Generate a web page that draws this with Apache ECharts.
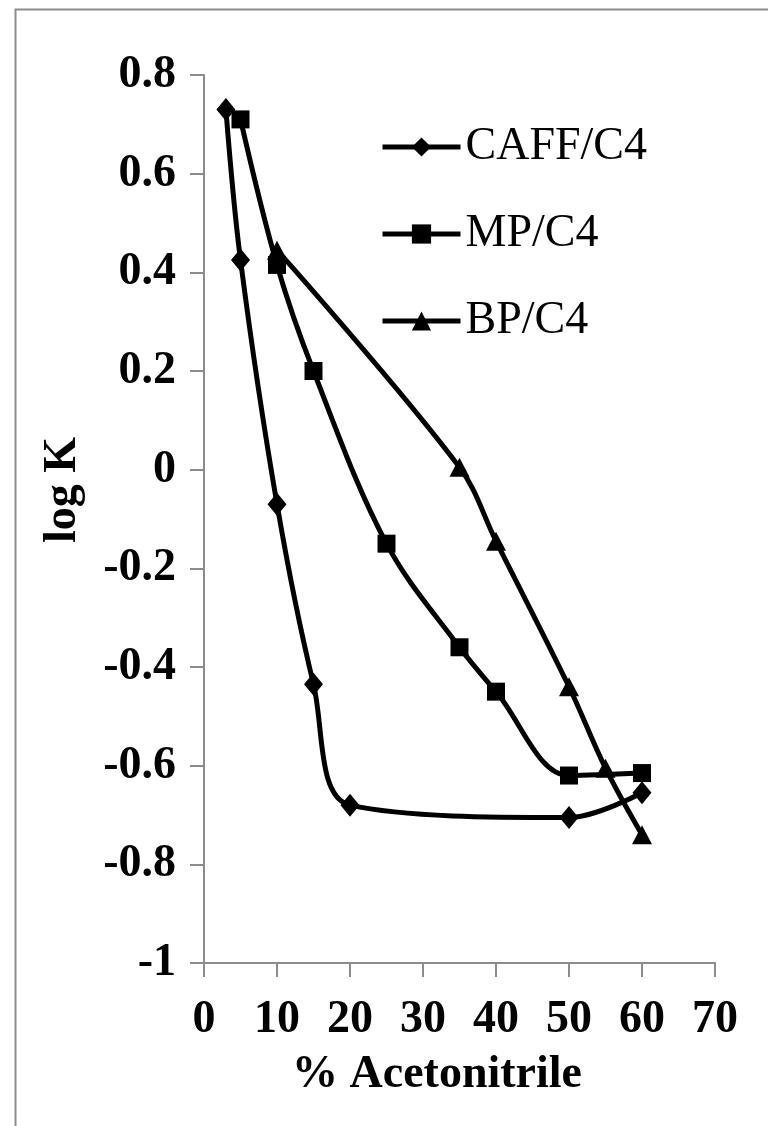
<!DOCTYPE html>
<html>
<head>
<meta charset="utf-8">
<script src="https://cdn.jsdelivr.net/npm/echarts@6/dist/echarts.min.js"></script>
<style>
  html, body { margin: 0; padding: 0; background: #fff; }
  #chart { width: 768px; height: 1126px; }
</style>
</head>
<body>
<div id="chart"></div>
<script>
// % acetonitrile (x) and log K (y) for each column/solute pair
var caffX = [3, 5, 10, 15, 20, 50, 60];
var caffY = [0.73, 0.425, -0.07, -0.435, -0.68, -0.705, -0.655];
var mpX = [5, 10, 15, 25, 35, 40, 50, 60];
var mpY = [0.71, 0.415, 0.2, -0.15, -0.36, -0.45, -0.62, -0.615];
var bpX = [10, 35, 40, 50, 55, 60];
var bpY = [0.445, 0.005, -0.145, -0.44, -0.605, -0.74];
var seriesNames = ['CAFF/C4', 'MP/C4', 'BP/C4'];

function pairs(xs, ys) {
  return xs.map(function (x, i) { return [x, ys[i]]; });
}

var serif = '"Liberation Serif", "Times New Roman", serif';
var axisGray = '#8c8c8c';

function makeSeries(name, xs, ys, symbol, size) {
  return {
    name: name,
    type: 'line',
    smooth: 0.35,
    data: pairs(xs, ys),
    symbol: symbol,
    symbolSize: size,
    showAllSymbol: true,
    lineStyle: { color: '#000', width: 5 },
    itemStyle: { color: '#000' },
    z: 3
  };
}

var myChart = echarts.init(document.getElementById('chart'));
myChart.setOption({
  animation: false,
  backgroundColor: '#fff',
  grid: { left: 204, right: 53, top: 75, bottom: 163, containLabel: false },
  legend: {
    orient: 'vertical',
    left: 375,
    top: 119,
    itemWidth: 78,
    itemHeight: 24,
    itemGap: 41,
    data: seriesNames,
    lineStyle: { width: 5 },
    textStyle: { fontFamily: serif, fontSize: 46, color: '#000', lineHeight: 46 }
  },
  xAxis: {
    type: 'value',
    min: 0, max: 70, interval: 10,
    axisLine: { onZero: false, lineStyle: { color: axisGray, width: 2 } },
    axisTick: { show: true, length: 14, lineStyle: { color: axisGray, width: 2 } },
    splitLine: { show: false },
    axisLabel: { fontFamily: serif, fontWeight: 'bold', fontSize: 46, color: '#000', margin: 34 }
  },
  yAxis: {
    type: 'value',
    min: -1, max: 0.8, interval: 0.2,
    axisLine: { show: true, onZero: false, lineStyle: { color: axisGray, width: 2 } },
    axisTick: { show: true, length: 14, lineStyle: { color: axisGray, width: 2 } },
    splitLine: { show: false },
    axisLabel: {
      fontFamily: serif, fontWeight: 'bold', fontSize: 46, color: '#000', margin: 28,
      formatter: function (v) { return String(Math.round(v * 10) / 10); }
    }
  },
  graphic: [
    {
      type: 'rect', left: 13, top: 7, z: -1, silent: true,
      shape: { width: 800, height: 1200 },
      style: { fill: 'none', stroke: axisGray, lineWidth: 2 }
    },
    {
      type: 'text', x: 63, y: 490, rotation: Math.PI / 2,
      style: {
        text: 'log K', fontFamily: serif, fontWeight: 'bold', fontSize: 46,
        fill: '#000', align: 'center', verticalAlign: 'middle'
      }
    },
    {
      type: 'text', x: 437, y: 1075,
      style: {
        text: '% Acetonitrile', fontFamily: serif, fontWeight: 'bold', fontSize: 46,
        fill: '#000', align: 'center', verticalAlign: 'middle'
      }
    }
  ],
  series: [
    makeSeries(seriesNames[0], caffX, caffY, 'diamond', [19, 23]),
    makeSeries(seriesNames[1], mpX, mpY, 'rect', 18),
    makeSeries(seriesNames[2], bpX, bpY, 'triangle', [20, 19])
  ]
});
</script>
</body>
</html>
